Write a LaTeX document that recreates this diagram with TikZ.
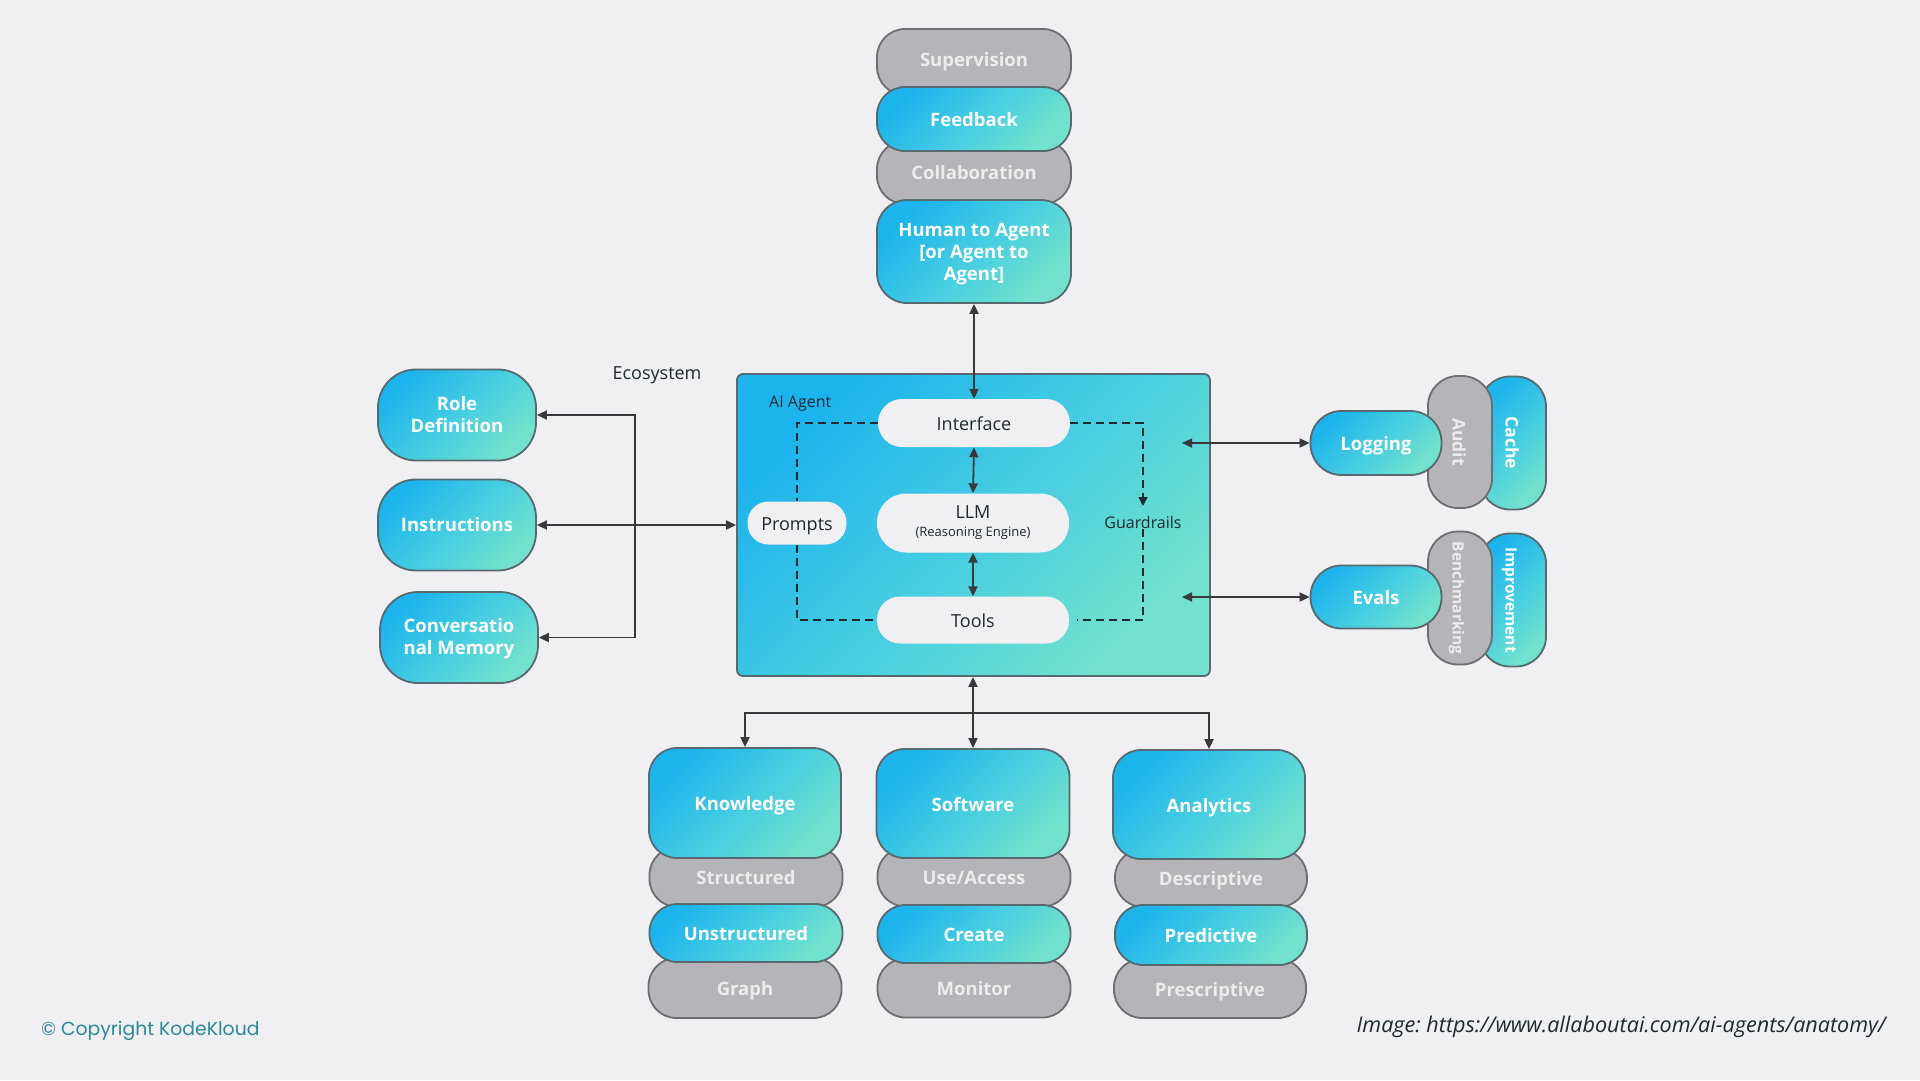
\documentclass[tikz,border=0pt]{standalone}
\usepackage{fontspec}
\setmainfont{Open Sans}
\newfontfamily\popfont{Poppins}
\usetikzlibrary{arrows.meta}
\definecolor{bg}{HTML}{F0EFF2}
\definecolor{cA}{HTML}{1CB4EC}
\definecolor{cM}{HTML}{45CDE2}
\definecolor{cB}{HTML}{72E2CC}
\definecolor{cbord}{HTML}{566A70}
\definecolor{gfill}{HTML}{B5B4B8}
\definecolor{gbord}{HTML}{6E6E72}
\definecolor{gtext}{HTML}{ECECEE}
\definecolor{dark}{HTML}{1E2A30}
\definecolor{arrc}{HTML}{38393C}
\definecolor{kk}{HTML}{2B8A9A}
\tikzset{
  lblfont/.style={font=\fontsize{18.5}{22}\selectfont\bfseries},
  cyanbase/.style={draw=cbord, line width=1.8pt, top color=cA, bottom color=cB, middle color=cM, shading angle=45, text=white, lblfont, align=center, inner sep=0pt},
  graybase/.style={draw=gbord, line width=1.8pt, fill=gfill, text=gtext, lblfont, align=center, inner sep=0pt},
  oneline/.style={text height=15pt, text depth=0pt},
  cyanbox/.style={cyanbase, oneline},
  graybox/.style={graybase, oneline},
  smallrot/.style={font=\fontsize{15.5}{18}\selectfont\bfseries},
  midrot/.style={font=\fontsize{17.5}{20}\selectfont\bfseries},
  agentbox/.style={draw=cbord, line width=1.8pt, top color=cA, bottom color=cB, middle color=cM, shading angle=45, inner sep=0pt, rounded corners=6pt},
  pillbase/.style={fill=bg, text=dark, font=\fontsize{18}{21}\selectfont, align=center, inner sep=0pt},
  pill/.style={pillbase, text height=15pt, text depth=0pt},
  plain/.style={text=dark, inner sep=1pt},
  arr/.style={-{Triangle[length=10pt,width=9pt]}, line width=1.8pt, draw=arrc},
  arrboth/.style={{Triangle[length=10pt,width=9pt]}-{Triangle[length=10pt,width=9pt]}, line width=1.8pt, draw=arrc},
  gdash/.style={dash pattern=on 8pt off 5pt, line width=1.6pt, draw=dark},
}
\frenchspacing
\begin{document}
\begin{tikzpicture}[x=1pt,y=-1pt]
\fill[bg] (0,0) rectangle (1920,1080);
\useasboundingbox (0,0) rectangle (1920,1080);

% top stack
\node[graybase, minimum width=194, minimum height=66, rounded corners=28pt] (sup) at (974,62) {Supervision};
\node[graybase, minimum width=194, minimum height=63, rounded corners=28pt] (col) at (974,172.5) {Collaboration};
\node[cyanbox, minimum width=194, minimum height=64, rounded corners=28pt] (fb) at (974,119) {Feedback};
\node[cyanbase, minimum width=194, minimum height=103, rounded corners=30pt] (hum) at (974,251.5) {\rule{0pt}{18.5pt}Human to Agent\\{}[or Agent to\\Agent]};

% AI agent
\node[agentbox, minimum width=473, minimum height=302] (agent) at (973.5,525) {};
\node[pill, minimum width=192, minimum height=48, rounded corners=24pt] (iface) at (974,423) {Interface};
\node[pillbase, minimum width=192, minimum height=59, rounded corners=29pt] (llm) at (973,523) {LLM\\[-3pt]{\fontsize{13}{15}\selectfont(Reasoning Engine)}};
\node[pill, minimum width=192, minimum height=47, rounded corners=23pt] (tools) at (973,620) {Tools};
\node[pill, minimum width=99, minimum height=43, rounded corners=21pt] (prompts) at (797,523) {Prompts};
\node[plain, anchor=west, font=\fontsize{16}{19}\selectfont] (ailbl) at (768,404) {AI Agent};
\node[plain, font=\fontsize{16}{19}\selectfont] (guard) at (1143,522) {Guardrails};
\coordinate (gtop) at (1143,506);

\draw[gdash] (iface.west) -| (prompts.north);
\draw[gdash] (prompts.south) |- (tools.west);
\draw[gdash] (guard.south) |- ([xshift=8pt]tools.east);
\draw[gdash, -{Triangle[length=9pt,width=9pt]}] (iface.east) -| (gtop);
\draw[arrboth] (iface.south) -- (llm.north);
\draw[arrboth] (llm.south) -- (tools.north);
\draw[arrboth] (hum.south) -- (iface.north);

% left
\node[cyanbase, minimum width=158, minimum height=91, rounded corners=38pt] (role) at (457,415) {Role\\Definition};
\node[cyanbase, minimum width=158, minimum height=91, rounded corners=38pt] (instr) at (457,525) {Instructions};
\node[cyanbase, minimum width=158, minimum height=91, rounded corners=38pt] (conv) at (459,637.5) {\rule{0pt}{16pt}Conversatio\\nal Memory};
\node[plain, font=\fontsize{18}{21}\selectfont] (eco) at (657,375) {Ecosystem};
\coordinate (bus) at (635,525);
\draw[arrboth] (instr.east) -- (agent.west |- instr.east);
\draw[arr] (bus) |- (role.east);
\draw[arr] (bus) |- (conv.east);

% right
\node[cyanbox, midrot, rotate=-90, minimum width=133, minimum height=66, rounded corners=30pt] (cache) at (1513,443) {Cache};
\node[graybox, midrot, rotate=-90, minimum width=132, minimum height=64, rounded corners=30pt] (audit) at (1460,442) {Audit};
\node[cyanbox, minimum width=131, minimum height=64, rounded corners=31pt] (logging) at (1376,443) {Logging};
\node[cyanbox, smallrot, rotate=-90, minimum width=133, minimum height=66, rounded corners=30pt] (improv) at (1513,600) {Improvement};
\node[graybox, smallrot, rotate=-90, minimum width=133, minimum height=64, rounded corners=30pt] (bench) at (1460,598) {Benchmarking};
\node[cyanbox, minimum width=131, minimum height=63, rounded corners=31pt] (evals) at (1376,597) {Evals};
\coordinate (lgs) at (1182,443);
\coordinate (evs) at (1182,597);
\draw[arrboth] (lgs) -- (logging.west);
\draw[arrboth] (evs) -- (evals.west);

% bottom
\node[graybox, minimum width=193, minimum height=60, rounded corners=28pt] (struct) at (746,877) {Structured};
\node[graybox, minimum width=193, minimum height=60, rounded corners=28pt] (graph) at (745,988) {Graph};
\node[cyanbox, minimum width=192, minimum height=110, rounded corners=28pt] (know) at (745,803) {Knowledge};
\node[cyanbox, minimum width=193, minimum height=58, rounded corners=28pt] (unstr) at (746,933) {Unstructured};

\node[graybox, minimum width=193, minimum height=59, rounded corners=28pt] (use) at (974,877) {Use/Access};
\node[graybox, minimum width=193, minimum height=59, rounded corners=28pt] (monitor) at (974,988) {Monitor};
\node[cyanbox, minimum width=193, minimum height=109, rounded corners=28pt] (soft) at (973,803.5) {Software};
\node[cyanbox, minimum width=193, minimum height=58, rounded corners=28pt] (create) at (974,934) {Create};

\node[graybox, minimum width=192, minimum height=58, rounded corners=28pt] (desc) at (1211,878) {Descriptive};
\node[graybox, minimum width=192, minimum height=59, rounded corners=28pt] (presc) at (1210,988.5) {Prescriptive};
\node[cyanbox, minimum width=192, minimum height=109, rounded corners=28pt] (analytics) at (1209,804.5) {Analytics};
\node[cyanbox, minimum width=192, minimum height=60, rounded corners=28pt] (pred) at (1211,935) {Predictive};

\coordinate (jb) at (973,713);
\draw[arrboth] (soft.north) -- (soft.north |- agent.south);
\draw[arr] (jb) -| (know.north);
\draw[arr] (jb) -| (analytics.north);

% credits
\node[anchor=west, text=kk, inner sep=0pt, font=\popfont\fontsize{18.8}{22}\selectfont] (copy) at (41,1031) {© Copyright KodeKloud};
\node[anchor=east, text=dark, inner sep=0pt, font=\itshape\fontsize{21.6}{24}\selectfont] (src) at (1886,1027) {Image: https://www.allaboutai.com/ai-agents/anatomy/};
\end{tikzpicture}
\end{document}
